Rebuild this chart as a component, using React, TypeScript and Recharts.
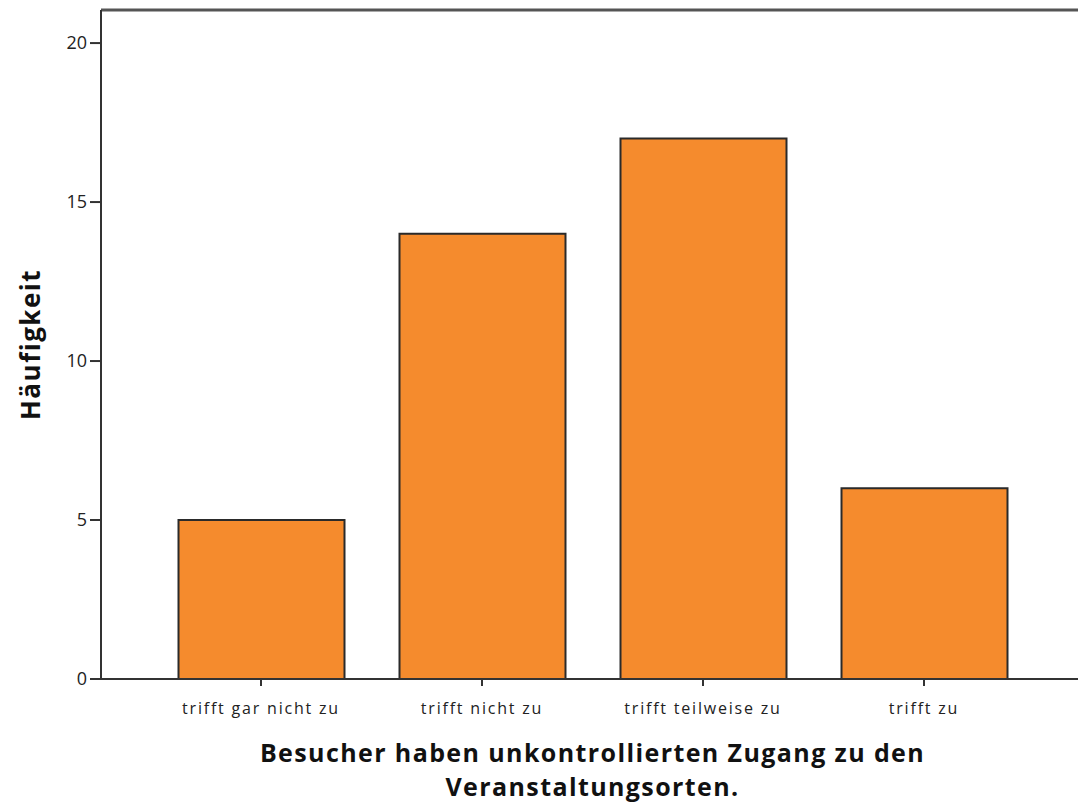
import { BarChart, Bar, XAxis, YAxis, ReferenceLine, Label } from "recharts";

const categories = ["trifft gar nicht zu", "trifft nicht zu", "trifft teilweise zu", "trifft zu"];
const counts = [5, 14, 17, 6];
const yTicks = [0, 5, 10, 15, 20];
const xTitle = ["Besucher haben unkontrollierten Zugang zu den", "Veranstaltungsorten."];
const yTitle = "Häufigkeit";

const rows = categories.map((name, i) => ({ name, count: counts[i] }));

const FONT = "'Open Sans', 'DejaVu Sans', sans-serif";
const TOP = 21.04;

export default function App() {
  return (
    <div style={{ position: "absolute", left: 0, top: 0, width: 1078, height: 802, overflow: "hidden", background: "#fff" }}>
      <BarChart width={1090} height={802} data={rows} margin={{ top: 10, right: 6, left: 0, bottom: 0 }}>
        <XAxis
          dataKey="name"
          height={123}
          padding={{ left: 49.5, right: 49.5 }}
          axisLine={{ stroke: "#333", strokeWidth: 2 }}
          tickLine={{ stroke: "#333", strokeWidth: 2 }}
          tickSize={7}
          tickMargin={17}
          tick={{ fontSize: 16, fill: "#222", fontFamily: FONT, letterSpacing: 1.8 }}
        >
          <Label
            content={({ viewBox }: any) => {
              const cx = viewBox.x + viewBox.width / 2;
              const y0 = viewBox.y;
              return (
                <g fontFamily={FONT} fontWeight="bold" fontSize={25} fill="#111" textAnchor="middle" letterSpacing={1.4}>
                  <text x={cx} y={y0 + 73} dominantBaseline="central">{xTitle[0]}</text>
                  <text x={cx} y={y0 + 107} dominantBaseline="central">{xTitle[1]}</text>
                </g>
              );
            }}
          />
        </XAxis>
        <YAxis
          width={101}
          domain={[0, TOP]}
          ticks={yTicks}
          allowDataOverflow
          axisLine={{ stroke: "#333", strokeWidth: 2 }}
          tickLine={{ stroke: "#333", strokeWidth: 2 }}
          tickSize={11}
          tickMargin={3}
          tick={{ fontSize: 18, fill: "#222", fontFamily: FONT }}
        >
          <Label
            content={({ viewBox }: any) => {
              const cy = viewBox.y + viewBox.height / 2;
              return (
                <text
                  x={30}
                  y={cy}
                  transform={`rotate(-90 30 ${cy})`}
                  textAnchor="middle"
                  dominantBaseline="central"
                  fontFamily={FONT}
                  fontWeight="bold"
                  fontSize={26}
                  letterSpacing={1.5}
                  fill="#111"
                >
                  {yTitle}
                </text>
              );
            }}
          />
        </YAxis>
        <ReferenceLine y={TOP} stroke="#555" strokeWidth={3} />
        <Bar dataKey="count" barSize={166} fill="#f58b2d" stroke="#2a2a2a" strokeWidth={2} isAnimationActive={false} />
      </BarChart>
    </div>
  );
}
